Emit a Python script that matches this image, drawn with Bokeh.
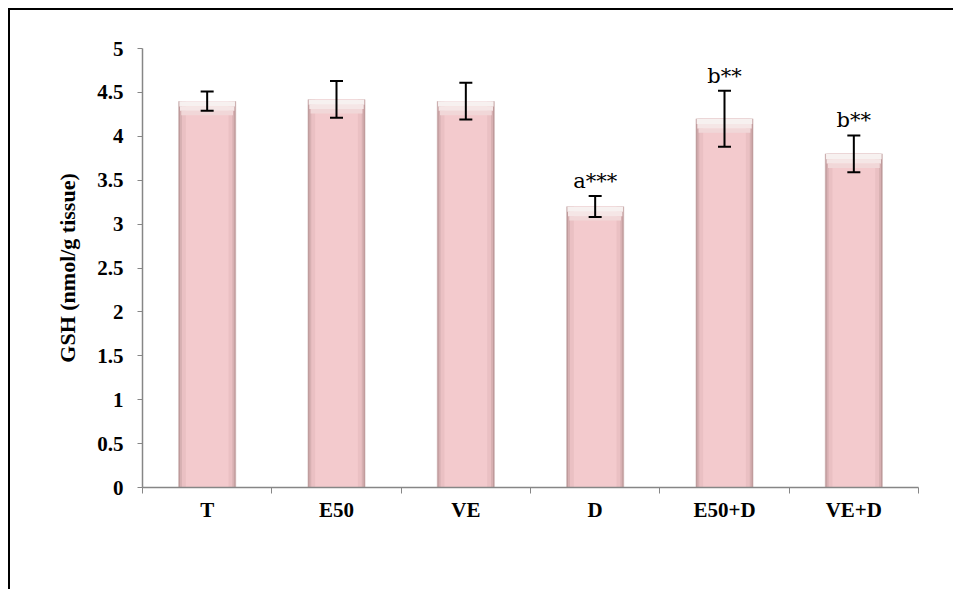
from bokeh.plotting import figure
from bokeh.models import ColumnDataSource, Range1d, FixedTicker, Whisker, TeeHead
from bokeh.core.properties import value
from bokeh.embed import file_html
from bokeh.resources import INLINE

categories = ["T", "E50", "VE", "D", "E50+D", "VE+D"]
gsh = [4.40, 4.42, 4.40, 3.20, 4.20, 3.80]
err = [0.11, 0.21, 0.21, 0.12, 0.32, 0.21]
marks = ["", "", "", "a***", "b**", "b**"]

xs = [i + 0.5 for i in range(len(categories))]
upper = [v + e for v, e in zip(gsh, err)]
lower = [v - e for v, e in zip(gsh, err)]
cap1 = [v - 0.06 for v in gsh]
cap2 = [v - 0.11 for v in gsh]
cap3 = [v - 0.16 for v in gsh]

src = ColumnDataSource(dict(x=xs, top=gsh, upper=upper, lower=lower,
                            cap1=cap1, cap2=cap2, cap3=cap3, mark=marks))

p = figure(width=945, height=581, output_backend="svg", toolbar_location=None,
           x_range=Range1d(0, 6), y_range=Range1d(0, 5),
           min_border_left=132, min_border_right=37, min_border_top=38, min_border_bottom=104)
p.styles = {"border-top": "2px solid black", "border-left": "2px solid black",
            "box-sizing": "border-box", "margin-left": "8px", "margin-top": "8px"}
p.outline_line_color = None
p.grid.visible = False
p.background_fill_color = "white"
p.border_fill_color = "white"

# bars with layered shading
p.vbar(x="x", top="top", bottom=0, width=0.45, source=src,
       fill_color="#e4d6d6", line_color=None)
p.vbar(x="x", top="top", bottom=0, width=0.44, source=src,
       fill_color="#bf9a9b", line_color=None)
p.vbar(x="x", top="top", bottom=0, width=0.42, source=src,
       fill_color="#d7b0b2", line_color=None)
p.vbar(x="x", top="top", bottom=0, width=0.39, source=src,
       fill_color="#eac0c3", line_color=None)
p.vbar(x="x", top="top", bottom=0, width=0.33, source=src,
       fill_color="#f3cacd", line_color=None)
# top highlight
p.vbar(x="x", top="cap2", bottom="cap3", width=0.40, source=src,
       fill_color="#f1d7d8", line_color=None)
p.vbar(x="x", top="cap1", bottom="cap2", width=0.42, source=src,
       fill_color="#f5e6e6", line_color=None)
p.vbar(x="x", top="top", bottom="cap1", width=0.43, source=src,
       fill_color="#f7f1f0", line_color=None)

# error bars
w = Whisker(base="x", upper="upper", lower="lower", source=src,
            line_color="black", line_width=2, level="overlay",
            upper_head=TeeHead(size=13, line_color="black", line_width=2),
            lower_head=TeeHead(size=13, line_color="black", line_width=2))
p.add_layout(w)

# significance marks
p.text(x="x", y="upper", text="mark", source=src, text_align="center",
       text_baseline="bottom", y_offset=-3, text_font=value("DejaVu Serif"),
       text_font_size="21px", text_color="black")

# axes
axis_col = "#868686"
p.yaxis.ticker = FixedTicker(ticks=[0, 0.5, 1, 1.5, 2, 2.5, 3, 3.5, 4, 4.5, 5])
p.yaxis.major_label_overrides = {0: "0", 0.5: "0.5", 1: "1", 1.5: "1.5", 2: "2",
                                 2.5: "2.5", 3: "3", 3.5: "3.5", 4: "4", 4.5: "4.5", 5: "5"}
p.yaxis.axis_line_color = axis_col
p.yaxis.axis_line_width = 1.5
p.yaxis.major_tick_line_color = axis_col
p.yaxis.major_tick_in = 0
p.yaxis.major_tick_out = 5
p.yaxis.minor_tick_line_color = None
p.yaxis.major_label_text_font = "Liberation Serif"
p.yaxis.major_label_text_font_style = "bold"
p.yaxis.major_label_text_font_size = "21px"
p.yaxis.major_label_text_color = "black"
p.yaxis.major_label_standoff = 14
p.yaxis.axis_label = "GSH (nmol/g tissue)"
p.yaxis.axis_label_text_font = "Liberation Serif"
p.yaxis.axis_label_text_font_style = "bold"
p.yaxis.axis_label_text_font_size = "22px"
p.yaxis.axis_label_text_color = "black"
p.yaxis.axis_label_standoff = 14

p.xaxis.ticker = FixedTicker(ticks=xs, minor_ticks=list(range(len(categories) + 1)))
p.xaxis.major_label_overrides = {x: c for x, c in zip(xs, categories)}
p.xaxis.axis_line_color = axis_col
p.xaxis.axis_line_width = 1.5
p.xaxis.major_tick_line_color = None
p.xaxis.major_tick_out = 0
p.xaxis.major_tick_in = 0
p.xaxis.minor_tick_line_color = axis_col
p.xaxis.minor_tick_in = 0
p.xaxis.minor_tick_out = 6
p.xaxis.major_label_text_font = "Liberation Serif"
p.xaxis.major_label_text_font_style = "bold"
p.xaxis.major_label_text_font_size = "21px"
p.xaxis.major_label_text_color = "black"
p.xaxis.major_label_standoff = 4

open("out.html", "w").write(file_html(p, INLINE))
